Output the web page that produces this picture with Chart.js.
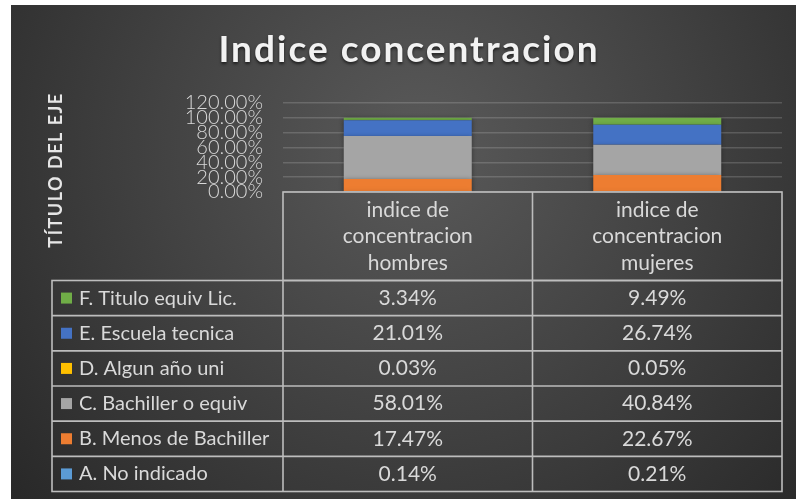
<!DOCTYPE html>
<html>
<head>
<meta charset="utf-8">
<script src="https://cdn.jsdelivr.net/npm/chart.js@4.4.1/dist/chart.umd.min.js"></script>
<style>
  html, body { margin: 0; padding: 0; background: #ffffff; }
  #wrap { width: 796px; height: 499px; position: relative; }
</style>
</head>
<body>
<div id="wrap"><canvas id="chart_ic"></canvas></div>
<script>
// categories (columns of the data table)
const categories = [
  ["indice de", "concentracion", "hombres"],
  ["indice de", "concentracion", "mujeres"]
];
// series, bottom of the stack first
const seriesNames = [
  "A. No indicado",
  "B. Menos de Bachiller",
  "C. Bachiller o equiv",
  "D. Algun año uni",
  "E. Escuela tecnica",
  "F. Titulo equiv Lic."
];
const noIndicado = [0.14, 0.21];
const menosBachiller = [17.47, 22.67];
const bachiller = [58.01, 40.84];
const algunAnio = [0.03, 0.05];
const escuelaTecnica = [21.01, 26.74];
const tituloLic = [3.34, 9.49];
const seriesColors = ['#5B9BD5', '#ED7D31', '#A5A5A5', '#FFC000', '#4472C4', '#70AD47'];
const yTicks = [0, 20, 40, 60, 80, 100, 120];

const FONT = "Lato, 'Open Sans', sans-serif";

// background: white border strip then dark radial fill
const bgPlugin = {
  id: 'bgPlugin',
  beforeDraw(chart) {
    const ctx = chart.ctx;
    ctx.save();
    ctx.fillStyle = '#ffffff';
    ctx.fillRect(0, 0, chart.width, chart.height);
    const g = ctx.createRadialGradient(420, 150, 20, 420, 150, 560);
    g.addColorStop(0, '#585858');
    g.addColorStop(0.45, '#424242');
    g.addColorStop(1, '#262626');
    ctx.fillStyle = g;
    ctx.fillRect(11, 5, chart.width - 11, chart.height - 5);
    ctx.restore();
  }
};

// titles + data table under the plot
const tablePlugin = {
  id: 'tablePlugin',
  beforeDatasetsDraw(chart) {
    chart.ctx.save();
    chart.ctx.shadowColor = 'rgba(0,0,0,0.45)';
    chart.ctx.shadowBlur = 5;
    chart.ctx.shadowOffsetY = 1;
  },
  afterDatasetsDraw(chart) {
    chart.ctx.restore();
  },
  afterDraw(chart) {
    const ctx = chart.ctx;
    const area = chart.chartArea;
    const xs = chart.scales.x;
    ctx.save();

    // chart title
    ctx.fillStyle = '#f2f2f2';
    ctx.shadowColor = 'rgba(0,0,0,0.6)';
    ctx.shadowBlur = 3;
    ctx.shadowOffsetY = 2;
    ctx.font = "bold 37px " + FONT;
    ctx.letterSpacing = '2px';
    ctx.textAlign = 'center';
    ctx.textBaseline = 'alphabetic';
    ctx.fillText("Indice concentracion", 409, 62);
    ctx.shadowColor = 'transparent';

    // axis title
    ctx.save();
    ctx.translate(56, 170);
    ctx.rotate(-Math.PI / 2);
    ctx.font = "bold 18px " + FONT;
    ctx.letterSpacing = '1.5px';
    ctx.fillStyle = '#e6e6e6';
    ctx.textBaseline = 'middle';
    ctx.fillText("TÍTULO DEL EJE", 0, 0);
    ctx.restore();
    ctx.letterSpacing = '0px';

    const left = area.left, right = area.right, top = area.bottom;
    const headBottom = 280.5, tableBottom = 491.5, legendLeft = 52;
    const n = chart.data.datasets.length;
    const rowH = (tableBottom - headBottom) / n;
    const colW = (right - left) / categories.length;

    ctx.strokeStyle = '#bdbdbd';
    ctx.lineWidth = 1.6;
    // header box
    ctx.strokeRect(left, top, right - left, headBottom - top);
    for (let c = 1; c < categories.length; c++) {
      ctx.beginPath();
      ctx.moveTo(left + c * colW, top);
      ctx.lineTo(left + c * colW, tableBottom);
      ctx.stroke();
    }
    ctx.strokeRect(legendLeft, headBottom, right - legendLeft, tableBottom - headBottom);
    ctx.beginPath();
    ctx.moveTo(left, headBottom);
    ctx.lineTo(left, tableBottom);
    ctx.stroke();
    for (let r = 1; r < n; r++) {
      const y = headBottom + r * rowH;
      ctx.beginPath();
      ctx.moveTo(legendLeft, y);
      ctx.lineTo(right, y);
      ctx.stroke();
    }

    // header text
    ctx.fillStyle = '#d9d9d9';
    ctx.font = "21px " + FONT;
    ctx.textAlign = 'center';
    ctx.textBaseline = 'middle';
    categories.forEach((lines, i) => {
      const cx = xs.getPixelForValue(i);
      const midY = (top + headBottom) / 2;
      lines.forEach((t, k) => {
        ctx.fillText(t, cx, midY + (k - (lines.length - 1) / 2) * 26.5);
      });
    });

    // rows: top series first
    for (let r = 0; r < n; r++) {
      const ds = chart.data.datasets[n - 1 - r];
      const cy = headBottom + r * rowH + rowH / 2;
      ctx.fillStyle = ds.backgroundColor;
      ctx.fillRect(61, cy - 5.5, 11, 11);
      ctx.fillStyle = '#d9d9d9';
      ctx.textAlign = 'left';
      ctx.font = "20px " + FONT;
      ctx.fillText(ds.label, 79, cy);
      ctx.textAlign = 'center';
      ctx.font = "21px " + FONT;
      ds.data.forEach((v, i) => {
        ctx.fillText(v.toFixed(2) + '%', xs.getPixelForValue(i), cy);
      });
    }
    ctx.restore();
  }
};

const seriesData = [noIndicado, menosBachiller, bachiller, algunAnio, escuelaTecnica, tituloLic];
const datasets = seriesNames.map((name, i) => ({
  label: name,
  data: seriesData[i],
  backgroundColor: seriesColors[i],
  borderWidth: 0,
  categoryPercentage: 1,
  barPercentage: 0.513
}));

new Chart(document.getElementById('chart_ic'), {
  type: 'bar',
  data: {
    labels: categories.map(c => c.join(' ')),
    datasets: datasets
  },
  options: {
    responsive: true,
    maintainAspectRatio: false,
    animation: false,
    layout: { padding: { left: 12, right: 14, top: 103, bottom: 307 } },
    plugins: {
      legend: { display: false },
      title: { display: false },
      tooltip: { enabled: false }
    },
    scales: {
      x: { stacked: true, display: false },
      y: {
        stacked: true,
        min: 0,
        max: 120,
        afterFit(scale) { scale.width = 271; },
        afterBuildTicks(scale) { scale.ticks = yTicks.map(v => ({ value: v })); },
        border: { display: false },
        grid: { color: 'rgba(255,255,255,0.16)', lineWidth: 1.5, drawTicks: false },
        ticks: {
          autoSkip: false,
          padding: 20,
          color: '#d9d9d9',
          font: { family: FONT, size: 20, weight: '300' },
          callback: v => v.toFixed(2) + '%'
        }
      }
    }
  },
  plugins: [bgPlugin, tablePlugin]
});
</script>
</body>
</html>
